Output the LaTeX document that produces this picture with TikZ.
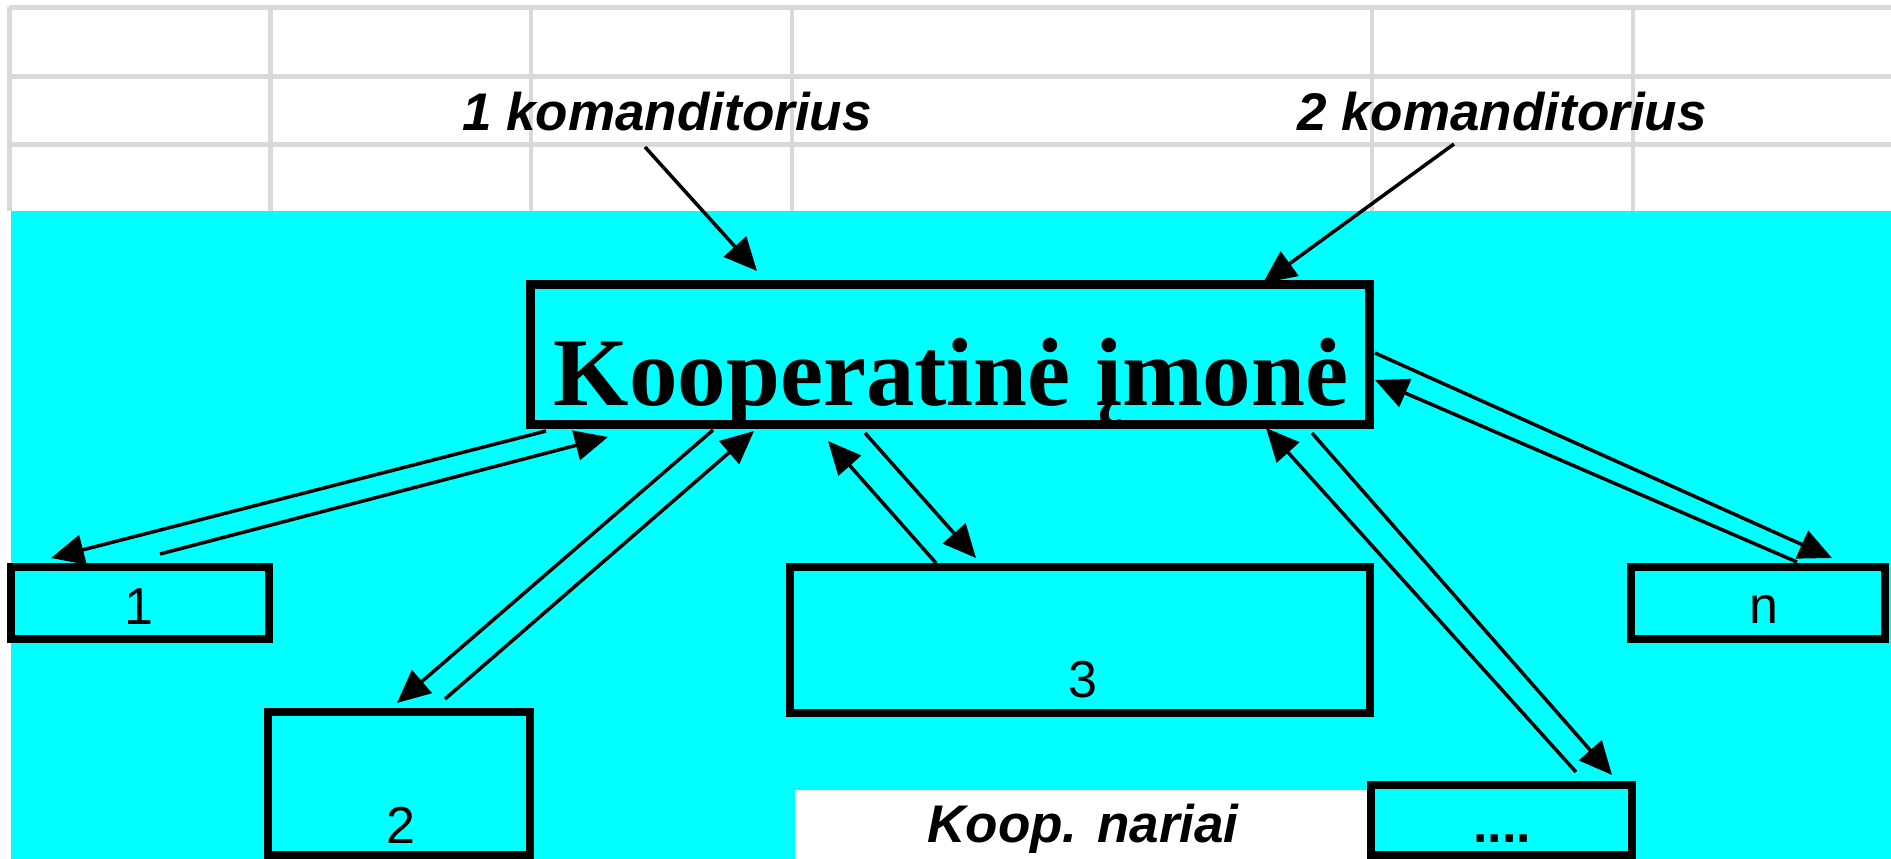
\documentclass[tikz,border=0pt]{standalone}
\usepackage{fontspec}
\setmainfont{Liberation Serif}
\newfontfamily\arialf{Liberation Sans}
\usetikzlibrary{arrows.meta}
\definecolor{cyanbg}{RGB}{0,255,255}
\definecolor{gridgrey}{RGB}{217,217,217}
\begin{document}
\begin{tikzpicture}[x=1pt,y=-1pt,
  gridline/.style={draw=gridgrey,line width=4.5pt},
  box/.style={draw=black,line width=8pt,fill=cyanbg,inner sep=0pt,anchor=center},
  numtxt/.style={anchor=base,inner sep=0pt,font=\arialf\fontsize{52}{60}\selectfont},
  kom/.style={anchor=base,inner sep=0pt,font=\arialf\bfseries\itshape\fontsize{53}{60}\selectfont},
  arr/.style={line width=3.5pt,-{Triangle[length=33pt,width=30pt]}}]
\useasboundingbox (0,0) rectangle (1891,859);
\fill[white] (0,0) rectangle (1891,859);
% grid
\foreach \yy in {7.5,76.5,144.5} \draw[gridline] (9,\yy) -- (1891,\yy);
\foreach \xx in {9.5,270.5,531,792,1372,1633} \draw[gridline] (\xx,7.5) -- (\xx,211);
% cyan area
\fill[cyanbg] (11,211) rectangle (1891,859);
% white label field
\fill[white] (795,790) rectangle (1367,859);
% boxes
\node[box,line width=9pt,minimum width=839pt,minimum height=140pt] (main) at (950,354.5) {};
\node[box,minimum width=258pt,minimum height=72pt] (b1) at (140,603) {};
\node[box,minimum width=262pt,minimum height=143pt] (b2) at (399,783.5) {};
\node[box,minimum width=580pt,minimum height=146pt] (b3) at (1080,640) {};
\node[box,minimum width=254pt,minimum height=72pt] (bn) at (1758,603) {};
\node[box,minimum width=261pt,minimum height=70pt] (bd) at (1501.5,820) {};
% texts
\node[anchor=base,inner sep=0pt,font=\bfseries\fontsize{97}{100}\selectfont] (maintxt) at (951,405) {Kooperatinė įmonė};
\node[numtxt] (t1) at (139,624) {1};
\node[numtxt] (t2) at (401,843) {2};
\node[numtxt] (t3) at (1083,697) {3};
\node[numtxt] (tn) at (1764,623) {n};
\node[numtxt,font=\arialf\bfseries\fontsize{52}{60}\selectfont] (td) at (1502,842) {....};
\node[kom] (k1) at (667,130) {1 komanditorius};
\node[kom] (k2) at (1502,130) {2 komanditorius};
\node[kom] (kn) at (1083,842) {Koop. nariai};
% connector end points
\coordinate (k1s) at (645,147);  \coordinate (k1e) at (757,271);
\coordinate (k2s) at (1454,144); \coordinate (k2e) at (1263,283);
\coordinate (m1s) at (546,431);  \coordinate (m1e) at (51,558);
\coordinate (r1s) at (160,554);  \coordinate (r1e) at (608,437);
\coordinate (m2s) at (713,430);  \coordinate (m2e) at (397,703);
\coordinate (r2s) at (445,699);  \coordinate (r2e) at (754,431);
\coordinate (r3s) at (936,563);  \coordinate (r3e) at (828,441);
\coordinate (m3s) at (865,433);  \coordinate (m3e) at (976,558);
\coordinate (r4s) at (1576,772); \coordinate (r4e) at (1266,428);
\coordinate (m4s) at (1312,433); \coordinate (m4e) at (1612,775);
\coordinate (mns) at (1375,353); \coordinate (mne) at (1832,558);
\coordinate (rns) at (1797,562); \coordinate (rne) at (1375,380);
% connectors
\draw[arr] (k1s) -- (k1e);
\draw[arr] (k2s) -- (k2e);
\draw[arr] (m1s) -- (m1e);
\draw[arr] (r1s) -- (r1e);
\draw[arr] (m2s) -- (m2e);
\draw[arr] (r2s) -- (r2e);
\draw[arr] (r3s) -- (r3e);
\draw[arr] (m3s) -- (m3e);
\draw[arr] (r4s) -- (r4e);
\draw[arr] (m4s) -- (m4e);
\draw[arr] (mns) -- (mne);
\draw[arr] (rns) -- (rne);
\end{tikzpicture}
\end{document}
